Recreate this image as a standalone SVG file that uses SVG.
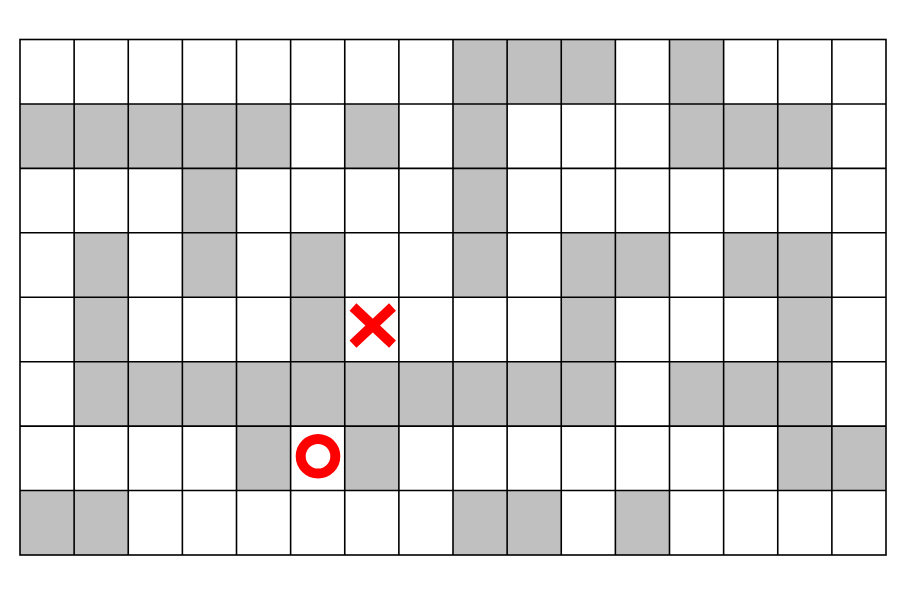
<svg xmlns="http://www.w3.org/2000/svg" width="924" height="592" viewBox="0 0 924 592">
<style>
.g{fill:#c0c0c0}
.ln{stroke:#000;stroke-width:1.6;fill:none}
.mk{stroke:#ff0000;stroke-width:10;fill:none}
</style>
<rect x="0" y="0" width="924" height="592" fill="#fff"/>
<g id="cells">
<!-- row 0 -->
<rect class="g" x="453" y="39.5" width="162.375" height="64.44"/>
<rect class="g" x="669.5" y="39.5" width="54.125" height="64.44"/>
<!-- row 1 -->
<rect class="g" x="20" y="103.94" width="270.625" height="64.44"/>
<rect class="g" x="344.75" y="103.94" width="54.125" height="64.44"/>
<rect class="g" x="453" y="103.94" width="54.125" height="64.44"/>
<rect class="g" x="669.5" y="103.94" width="162.375" height="64.44"/>
<!-- row 2 -->
<rect class="g" x="182.375" y="168.38" width="54.125" height="64.44"/>
<rect class="g" x="453" y="168.38" width="54.125" height="64.44"/>
<!-- row 3 -->
<rect class="g" x="74.125" y="232.81" width="54.125" height="64.44"/>
<rect class="g" x="182.375" y="232.81" width="54.125" height="64.44"/>
<rect class="g" x="290.625" y="232.81" width="54.125" height="64.44"/>
<rect class="g" x="453" y="232.81" width="54.125" height="64.44"/>
<rect class="g" x="561.25" y="232.81" width="108.25" height="64.44"/>
<rect class="g" x="723.625" y="232.81" width="108.25" height="64.44"/>
<!-- row 4 -->
<rect class="g" x="74.125" y="297.25" width="54.125" height="64.44"/>
<rect class="g" x="290.625" y="297.25" width="54.125" height="64.44"/>
<rect class="g" x="561.25" y="297.25" width="54.125" height="64.44"/>
<rect class="g" x="777.75" y="297.25" width="54.125" height="64.44"/>
<!-- row 5 -->
<rect class="g" x="74.125" y="361.69" width="541.25" height="64.44"/>
<rect class="g" x="669.5" y="361.69" width="162.375" height="64.44"/>
<!-- row 6 -->
<rect class="g" x="236.5" y="426.13" width="54.125" height="64.44"/>
<rect class="g" x="344.75" y="426.13" width="54.125" height="64.44"/>
<rect class="g" x="777.75" y="426.13" width="108.25" height="64.44"/>
<!-- row 7 -->
<rect class="g" x="20" y="490.56" width="108.25" height="64.44"/>
<rect class="g" x="453" y="490.56" width="108.25" height="64.44"/>
<rect class="g" x="615.375" y="490.56" width="54.125" height="64.44"/>
</g>
<g id="grid" class="ln">
<rect x="20" y="39.5" width="866" height="515.5"/>
<path d="M74.125 39.5V555M128.25 39.5V555M182.375 39.5V555M236.5 39.5V555M290.625 39.5V555M344.75 39.5V555M398.875 39.5V555M453 39.5V555M507.125 39.5V555M561.25 39.5V555M615.375 39.5V555M669.5 39.5V555M723.625 39.5V555M777.75 39.5V555M831.875 39.5V555"/>
<path d="M20 103.94H886M20 168.38H886M20 232.81H886M20 297.25H886M20 361.69H886M20 426.13H886M20 490.56H886"/>
</g>
<g id="goal">
<path class="mk" d="M353 307L392.5 344.2M392.5 307L353 344.2"/>
</g>
<g id="start">
<circle class="mk" cx="318" cy="456.3" r="17.3" stroke-width="11"/>
</g>
</svg>
